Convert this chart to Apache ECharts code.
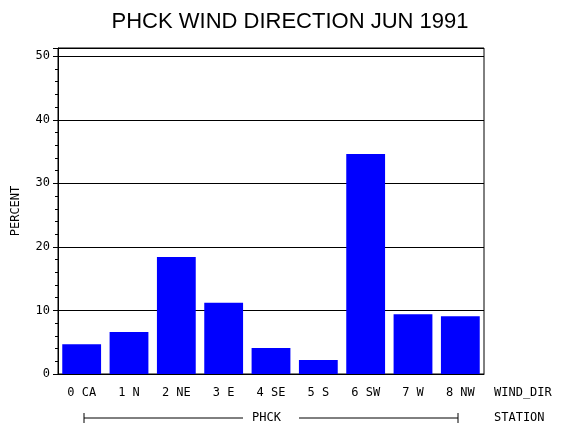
<!DOCTYPE html>
<html><head><meta charset="utf-8">
<script src="https://cdn.jsdelivr.net/npm/echarts@6/dist/echarts.min.js"></script>
<style>body{margin:0;background:#fff}#c{width:570px;height:430px}</style>
</head><body><div id="c"></div>
<script>
const categories = ['0 CA','1 N','2 NE','3 E','4 SE','5 S','6 SW','7 W','8 NW'];
const percent = [4.7,6.6,18.4,11.2,4.1,2.2,34.6,9.4,9.1];
const yTicks = [0,10,20,30,40,50];
const mono = 'DejaVu Sans Mono';
const chart = echarts.init(document.getElementById('c'));
chart.setOption({
  animation:false,
  title:{text:'PHCK WIND DIRECTION JUN 1991',left:285,textAlign:'center',top:6,
    textStyle:{fontFamily:'Liberation Sans',fontWeight:'normal',fontSize:22,color:'#000'}},
  grid:{left:58,right:86,top:48,bottom:56},
  xAxis:{type:'category',data:categories,
    axisLine:{lineStyle:{color:'#000'}},axisTick:{show:false},
    axisLabel:{color:'#000',fontFamily:mono,fontSize:12,margin:13,interval:0}},
  yAxis:{type:'value',min:0,max:51.3,interval:10,name:'PERCENT',nameLocation:'middle',nameGap:36,
    nameTextStyle:{fontFamily:mono,fontSize:12,color:'#000'},
    axisLine:{show:true,lineStyle:{color:'#000'}},
    axisTick:{show:true,lineStyle:{color:'#000'},length:5},
    minorTick:{show:true,splitNumber:5,length:3,lineStyle:{color:'#000'}},
    splitLine:{lineStyle:{color:'#000'}},
    axisLabel:{color:'#000',fontFamily:mono,fontSize:12,showMaxLabel:false,
      formatter:v=>yTicks.includes(v)?String(v):''}},
  series:[{type:'bar',data:percent,barCategoryGap:'18%',itemStyle:{color:'#0000ff'}}],
  graphic:[
    {type:'rect',shape:{x:58,y:48,width:426,height:326},style:{fill:'none',stroke:'#000',lineWidth:1}},
    {type:'text',left:494,top:387,style:{text:'WIND_DIR',font:'12px '+mono,fill:'#000'}},
    {type:'text',left:494,top:412,style:{text:'STATION',font:'12px '+mono,fill:'#000'}},
    {type:'line',shape:{x1:84,y1:418,x2:243,y2:418},style:{stroke:'#000'}},
    {type:'line',shape:{x1:299,y1:418,x2:458,y2:418},style:{stroke:'#000'}},
    {type:'line',shape:{x1:84,y1:413,x2:84,y2:423},style:{stroke:'#000'}},
    {type:'line',shape:{x1:458,y1:413,x2:458,y2:423},style:{stroke:'#000'}},
    {type:'text',left:252,top:412,style:{text:'PHCK',font:'12px '+mono,fill:'#000'}}
  ]
});
</script></body></html>
